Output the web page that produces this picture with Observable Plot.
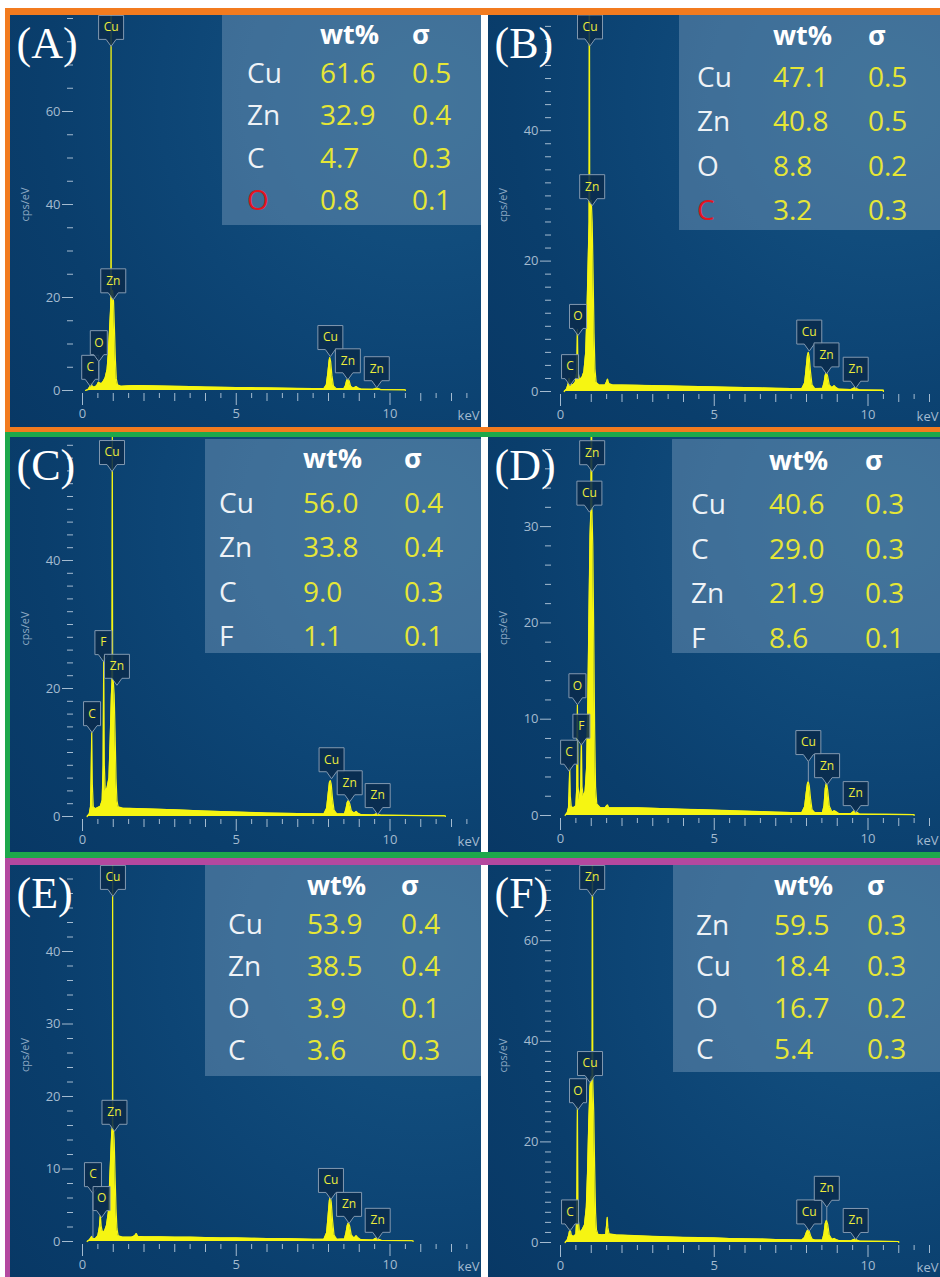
<!DOCTYPE html>
<html><head><meta charset="utf-8">
<script src="https://cdn.jsdelivr.net/npm/d3@7"></script>
<script src="https://cdn.jsdelivr.net/npm/@observablehq/plot@0.6"></script>
<style>
body{margin:0;background:#fff}
#fig{position:relative;width:940px;height:1277px;overflow:hidden;background:#fff;font-family:"Open Sans",sans-serif}
.band{position:absolute}
.panel{position:absolute;overflow:hidden;background:radial-gradient(circle at 88% 20%, #16547f 0%, #114c7c 28%, #0d4575 50%, #0a3e6c 72%, #083865 100%)}
.panel svg{position:absolute;left:0;top:0}
.tbl{position:absolute;background:rgba(128,162,194,0.42)}
.t{position:absolute;white-space:nowrap;line-height:1;transform:translateY(-50%);font-family:"Open Sans",sans-serif}
</style></head><body><div id="fig"></div>
<script>
// ---------- data ----------
const panelLetters = ["(A)", "(B)", "(C)", "(D)", "(E)", "(F)"];

// spectra: [keV, cps/eV]
const specA = [[0.10,0],[0.18,0.2],[0.24,0.8],[0.28,1.5],[0.32,0.9],[0.38,0.7],[0.46,1.0],[0.52,1.8],[0.56,1.6],[0.62,1.5],[0.68,2.0],[0.74,2.8],[0.80,4.5],[0.84,8],[0.88,13],[0.91,17],[0.925,20],[0.93,90],[0.935,20.5],[0.95,21],[0.98,21.5],[1.01,19],[1.04,13],[1.07,6.5],[1.10,2.5],[1.14,1.2],[1.25,0.9],[1.5,1.0],[1.8,1.05],[2.2,1.0],[2.6,0.95],[3.0,0.9],[3.5,0.85],[4.0,0.75],[4.5,0.7],[5.0,0.65],[5.5,0.6],[6.0,0.55],[6.5,0.5],[7.0,0.45],[7.5,0.4],[7.85,0.4],[7.93,1.2],[7.98,3.8],[8.02,6.4],[8.04,7.1],[8.07,6.2],[8.11,3.3],[8.16,1.0],[8.25,0.4],[8.5,0.4],[8.55,1.0],[8.59,2.1],[8.63,2.6],[8.67,2.1],[8.72,0.9],[8.8,0.5],[8.86,0.7],[8.9,0.85],[8.95,0.6],[9.05,0.3],[9.45,0.25],[9.52,0.4],[9.57,0.55],[9.62,0.4],[9.7,0.2],[10.5,0.15],[10.5,0]];
const specB = [[0.12,0],[0.2,0.4],[0.25,1.2],[0.28,2.0],[0.32,1.2],[0.4,1.0],[0.48,1.4],[0.53,3],[0.55,9.5],[0.57,3],[0.62,1.8],[0.7,2.2],[0.76,3],[0.82,6],[0.86,12],[0.9,20],[0.93,26],[0.94,70],[0.95,28],[0.97,29],[1.0,29.3],[1.03,26],[1.06,18],[1.09,9],[1.12,3.5],[1.16,1.4],[1.25,1.0],[1.45,1.0],[1.5,1.5],[1.53,1.9],[1.57,1.2],[1.7,1.0],[2.0,1.0],[2.5,0.95],[3,0.9],[3.5,0.85],[4,0.8],[4.5,0.75],[5,0.7],[5.5,0.65],[6,0.6],[6.5,0.55],[7,0.5],[7.5,0.45],[7.85,0.45],[7.94,1.3],[7.99,3.6],[8.03,5.5],[8.06,6.0],[8.09,5.3],[8.13,3],[8.18,1],[8.27,0.45],[8.52,0.5],[8.57,1.3],[8.61,2.5],[8.65,2.9],[8.69,2.3],[8.74,1],[8.83,0.6],[8.9,0.9],[8.96,0.6],[9.05,0.35],[9.45,0.3],[9.52,0.45],[9.58,0.6],[9.64,0.4],[9.72,0.25],[10.5,0.2],[10.5,0]];
const specC = [[0.15,0],[0.22,0.4],[0.26,1.5],[0.28,6],[0.30,13.4],[0.32,5],[0.35,1.5],[0.42,1.2],[0.5,1.4],[0.58,1.6],[0.64,2.5],[0.67,8],[0.69,25],[0.71,8],[0.74,4],[0.8,4.5],[0.86,6],[0.9,12],[0.94,19],[0.96,21],[0.97,60],[0.98,21],[1.0,21.2],[1.03,19],[1.06,13],[1.09,6],[1.12,2.5],[1.16,1.5],[1.3,1.3],[2.0,1.2],[3.0,1.05],[4.0,0.85],[5.0,0.7],[6.0,0.55],[7.0,0.45],[7.85,0.4],[7.94,1.3],[7.99,3.6],[8.03,5.3],[8.06,5.6],[8.09,5.0],[8.13,2.8],[8.18,1],[8.27,0.4],[8.52,0.4],[8.57,1.2],[8.61,2.2],[8.65,2.5],[8.69,2.0],[8.74,0.9],[8.83,0.5],[8.9,0.8],[8.96,0.5],[9.05,0.3],[9.45,0.25],[9.52,0.35],[9.58,0.45],[9.64,0.3],[9.72,0.2],[11.8,0.1],[11.8,0]];
const specD = [[0.15,0],[0.22,0.3],[0.26,0.8],[0.28,2.5],[0.30,5],[0.32,2],[0.35,0.9],[0.42,0.8],[0.5,1.0],[0.53,3],[0.55,11.5],[0.57,3],[0.62,1.5],[0.66,3],[0.68,7.6],[0.70,3],[0.74,2],[0.8,2.5],[0.85,5],[0.89,12],[0.93,22],[0.96,29],[0.99,32],[1.01,45],[1.02,32],[1.05,28],[1.08,19],[1.11,9],[1.14,3],[1.18,1.2],[1.3,0.8],[1.45,0.8],[1.5,1.0],[1.53,1.1],[1.57,0.8],[2,0.8],[2.5,0.8],[3,0.75],[3.5,0.7],[4,0.65],[4.5,0.6],[5,0.55],[5.5,0.5],[6,0.45],[6.5,0.4],[7,0.35],[7.5,0.3],[7.85,0.3],[7.94,0.9],[7.99,2.3],[8.03,3.3],[8.06,3.5],[8.09,3.1],[8.13,1.8],[8.18,0.6],[8.27,0.3],[8.52,0.3],[8.57,1.0],[8.61,2.8],[8.65,3.4],[8.69,2.6],[8.74,1],[8.83,0.35],[8.9,0.5],[8.96,0.4],[9.05,0.2],[9.45,0.2],[9.52,0.4],[9.58,0.55],[9.64,0.35],[9.72,0.15],[11.5,0.1],[11.5,0]];
const specE = [[0.15,0],[0.22,0.2],[0.27,0.5],[0.30,0.7],[0.34,0.4],[0.42,0.4],[0.5,0.8],[0.55,2],[0.58,3.6],[0.61,2],[0.66,1.2],[0.72,1.5],[0.78,2.2],[0.84,4],[0.88,8],[0.92,12],[0.95,15],[0.975,16],[0.98,60],[0.985,16],[1.0,16],[1.03,14],[1.06,9],[1.09,4.5],[1.12,1.8],[1.16,0.8],[1.3,0.6],[1.6,0.6],[1.7,0.8],[1.75,1.1],[1.8,0.7],[2.0,0.65],[2.5,0.65],[3,0.6],[3.5,0.6],[4,0.55],[4.5,0.5],[5,0.5],[5.5,0.45],[6,0.4],[6.5,0.4],[7,0.35],[7.5,0.3],[7.85,0.3],[7.94,1.2],[7.99,3.7],[8.03,5.7],[8.06,6.1],[8.09,5.4],[8.13,3],[8.18,0.9],[8.27,0.3],[8.52,0.35],[8.57,1.2],[8.61,2.2],[8.65,2.6],[8.69,2.1],[8.74,0.9],[8.83,0.45],[8.9,0.8],[8.96,0.5],[9.05,0.25],[9.45,0.2],[9.52,0.4],[9.58,0.5],[9.64,0.3],[9.72,0.15],[10.75,0.1],[10.75,0]];
const specF = [[0.15,0],[0.22,0.5],[0.27,1.5],[0.31,2.8],[0.35,1.5],[0.42,1.2],[0.5,1.6],[0.53,5],[0.55,27],[0.57,5],[0.62,2],[0.7,2.5],[0.78,3.5],[0.84,7],[0.88,14],[0.92,24],[0.96,31],[1.0,33],[1.03,33],[1.04,90],[1.05,32],[1.08,26],[1.11,15],[1.14,6],[1.17,2.5],[1.22,1.6],[1.35,1.5],[1.47,1.6],[1.5,3.5],[1.52,5],[1.54,3],[1.58,1.7],[1.8,1.5],[2.2,1.4],[2.6,1.3],[3,1.2],[3.5,1.1],[4,1.0],[4.5,0.95],[5,0.9],[5.5,0.8],[6,0.75],[6.5,0.7],[7,0.6],[7.5,0.55],[7.85,0.5],[7.94,1.0],[7.99,1.9],[8.03,2.4],[8.06,2.5],[8.09,2.2],[8.13,1.4],[8.18,0.7],[8.27,0.5],[8.52,0.5],[8.57,1.8],[8.61,3.8],[8.65,4.4],[8.69,3.6],[8.74,1.5],[8.83,0.6],[8.9,0.8],[8.96,0.6],[9.05,0.4],[9.45,0.35],[9.52,0.55],[9.58,0.7],[9.64,0.5],[9.72,0.3],[11.0,0.2],[11.0,0]];

// peak labels: [element, keV, cps/eV at pointer tip, (optional) peak cps/eV]
const labelsA = [["C",0.25,0.9],["O",0.53,6.2,2],["Cu",0.93,74],["Zn",1.0,19.5],["Cu",8.06,7.3],["Zn",8.63,2.3],["Zn",9.57,0.6]];
const labelsB = [["C",0.31,0.9],["O",0.57,8.6],["Cu",0.96,53],["Zn",1.03,28.5],["Cu",8.09,6.2],["Zn",8.65,2.7],["Zn",9.6,0.5]];
const labelsC = [["C",0.31,13.1],["Cu",0.96,53.9],["F",0.68,24.2],["Zn",1.12,20.5],["Cu",8.1,5.9],["Zn",8.69,2.3],["Zn",9.6,0.3]];
const labelsD = [["Zn",1.03,35.7],["Cu",0.94,31.5],["O",0.55,11.5],["F",0.68,7.3],["C",0.28,4.6],["Cu",8.06,5.6,3.5],["Zn",8.67,3.2],["Zn",9.6,0.3]];
const labelsE = [["Cu",0.99,47.6],["Zn",1.04,15.2],["C",0.34,6.6,0.5],["O",0.62,3.3],["Cu",8.08,5.8],["Zn",8.67,2.5],["Zn",9.6,0.3]];
const labelsF = [["Zn",1.03,68.8],["Cu",0.96,31.8],["O",0.57,26.4],["C",0.31,2.3],["Cu",8.09,2.3],["Zn",8.66,7.0,4.4],["Zn",9.6,0.6]];

// quantification tables: [element, wt%, sigma]
const tableA = [["Cu",61.6,0.5],["Zn",32.9,0.4],["C",4.7,0.3],["O",0.8,0.1]];
const tableB = [["Cu",47.1,0.5],["Zn",40.8,0.5],["O",8.8,0.2],["C",3.2,0.3]];
const tableC = [["Cu",56.0,0.4],["Zn",33.8,0.4],["C",9.0,0.3],["F",1.1,0.1]];
const tableD = [["Cu",40.6,0.3],["C",29.0,0.3],["Zn",21.9,0.3],["F",8.6,0.1]];
const tableE = [["Cu",53.9,0.4],["Zn",38.5,0.4],["O",3.9,0.1],["C",3.6,0.3]];
const tableF = [["Zn",59.5,0.3],["Cu",18.4,0.3],["O",16.7,0.2],["C",5.4,0.3]];
const highlighted = [3, 3, -1, -1, -1, -1]; // row shown in red

// axis ticks
const yMajorA = [0,20,40,60], yMajorB = [0,20,40], yMajorC = [0,20,40], yMajorD = [0,10,20,30], yMajorE = [0,10,20,30,40], yMajorF = [0,20,40,60];
const yMinorSteps = [5, 2, 2, 2, 2, 2];
const xLabelTicks = [0, 5, 10];

// ---------- layout & style ----------
const layout = [
  {left:10,  top:15,  w:471, h:412, zero:375, ppu:4.65, tl:212, tt:0, tb:210, nameX:237, wtX:310, sdX:402, hy:18, r0:57, rs:42.3},
  {left:488, top:15,  w:452, h:412, zero:376, ppu:6.52, tl:191, tt:0, tb:215, nameX:209, wtX:285, sdX:380, hy:19, r0:61, rs:44.3},
  {left:10,  top:437, w:471, h:415, zero:379, ppu:6.40, tl:195, tt:2, tb:216, nameX:209, wtX:293, sdX:394, hy:20, r0:65, rs:44.3},
  {left:488, top:437, w:452, h:415, zero:378, ppu:9.63, tl:184, tt:2, tb:216, nameX:203, wtX:281, sdX:377, hy:22, r0:66, rs:44.7},
  {left:10,  top:865, w:471, h:412, zero:376, ppu:7.25, tl:195, tt:0, tb:211, nameX:218, wtX:297, sdX:391, hy:19, r0:58, rs:42.0},
  {left:488, top:865, w:452, h:412, zero:377, ppu:5.03, tl:185, tt:0, tb:207, nameX:208, wtX:286, sdX:379, hy:19, r0:59, rs:41.3}
];
const YEL = "#f6f512", TIPTXT = "#ecec3c", AXC = "#a4bbd0", AXC2 = "#8ea9c4";
const BOXFILL = "#0a2b4c", BOXSTROKE = "#8399b0";
const VALC = "#e6e636", NAMEC = "#eef2f6", REDC = "#e3141e";
const KEVPX = 30.75, X0 = 72;
const PTR = 7, BOXH = 24;

// callout symbol: box above a short pointer whose tip sits on the anchor point
function callout(w) {
  return {draw(ctx) {
    ctx.moveTo(0, 0);
    ctx.lineTo(5, -PTR);
    ctx.lineTo(w / 2, -PTR);
    ctx.lineTo(w / 2, -PTR - BOXH);
    ctx.lineTo(-w / 2, -PTR - BOXH);
    ctx.lineTo(-w / 2, -PTR);
    ctx.lineTo(-5, -PTR);
    ctx.closePath();
  }};
}
const wideBox = callout(25), narrowBox = callout(17);

const fig = document.getElementById("fig");
function band(l, t, w, h, c) {
  const d = document.createElement("div");
  d.className = "band";
  Object.assign(d.style, {left: l + "px", top: t + "px", width: w + "px", height: h + "px", background: c});
  fig.appendChild(d);
}
band(5, 8, 945, 424, "#f27b1f");
band(5, 432, 945, 426, "#1ea84b");
band(5, 858, 945, 430, "#b4489f");

function txt(parent, s, x, y, size, color, weight) {
  const e = document.createElement("div");
  e.className = "t";
  e.textContent = s;
  Object.assign(e.style, {left: x + "px", top: y + "px", fontSize: size + "px", color, fontWeight: weight || 400});
  parent.appendChild(e);
}

const specs = [specA, specB, specC, specD, specE, specF];
const labelSets = [labelsA, labelsB, labelsC, labelsD, labelsE, labelsF];
const tables = [tableA, tableB, tableC, tableD, tableE, tableF];
const yMajors = [yMajorA, yMajorB, yMajorC, yMajorD, yMajorE, yMajorF];

specs.forEach((spec, i) => {
  const L = layout[i];
  const div = document.createElement("div");
  div.className = "panel";
  Object.assign(div.style, {left: L.left + "px", top: L.top + "px", width: L.w + "px", height: L.h + "px"});
  fig.appendChild(div);

  // quantification table
  const tb = document.createElement("div");
  tb.className = "tbl";
  Object.assign(tb.style, {left: L.tl + "px", top: L.tt + "px", width: (L.w - L.tl) + "px", height: (L.tb - L.tt) + "px"});
  div.appendChild(tb);
  txt(div, "wt%", L.wtX, L.hy, 27, "#ffffff", 700);
  txt(div, "σ", L.sdX, L.hy, 27, "#ffffff", 700);
  tables[i].forEach((r, k) => {
    const y = L.r0 + k * L.rs;
    txt(div, r[0], L.nameX, y, 28, highlighted[i] === k ? REDC : NAMEC);
    txt(div, r[1].toFixed(1), L.wtX, y, 28, VALC);
    txt(div, r[2].toFixed(1), L.sdX, y, 28, VALC);
  });

  const yTop = L.zero / L.ppu;
  const kevMax = (L.w - X0) / KEVPX;
  const yMajor = yMajors[i];
  const yMinor = d3.range(0, yTop, yMinorSteps[i]).filter(v => !yMajor.includes(v));
  const xWhole = d3.range(1, kevMax, 1).filter(v => !xLabelTicks.includes(v));
  const xHalf = d3.range(0.5, kevMax, 1);
  const labels = labelSets[i];
  const wide = labels.filter(d => d[0].length > 1), narrow = labels.filter(d => d[0].length === 1);
  const links = labels.filter(d => d.length > 3).map(d => ({x: d[1], y1: d[2], y2: d[3]}));
  const lx = d => d[1], ly = d => d[2];

  const svg = Plot.plot({
    width: L.w, height: L.h,
    marginLeft: 63, marginRight: 2, marginTop: 0, marginBottom: L.h - (L.zero + 3),
    style: {background: "transparent", color: AXC, fontFamily: "Open Sans", overflow: "hidden"},
    x: {domain: [0, kevMax], range: [X0, L.w]},
    y: {domain: [0, yTop], range: [L.zero, 0]},
    marks: [
      Plot.axisY({ticks: yMinor, tickSize: 6, stroke: AXC, fill: "none", label: null}),
      Plot.axisY({ticks: yMajor, tickSize: 11, tickPadding: 2, stroke: AXC, fill: AXC, fontSize: 13, label: null}),
      Plot.axisX({ticks: xHalf, tickSize: 5, stroke: AXC, fill: "none", label: null}),
      Plot.axisX({ticks: xWhole, tickSize: 8, stroke: AXC, fill: "none", label: null}),
      Plot.axisX({ticks: xLabelTicks, tickSize: 12, tickPadding: 3, stroke: AXC, fill: AXC, fontSize: 13, label: null}),
      Plot.text(["keV"], {text: d => d, frameAnchor: "bottom-right", textAnchor: "end", lineAnchor: "middle", dy: 22, fill: AXC, fontSize: 13}),
      Plot.text(["cps/eV"], {text: d => d, frameAnchor: "left", rotate: -90, dx: -48, textAnchor: "middle", lineAnchor: "middle", fill: AXC2, fontSize: 11}),
      Plot.areaY(spec, {x: d => d[0], y: d => d[1], fill: YEL, curve: "linear"}),
      Plot.lineY(spec, {x: d => d[0], y: d => d[1], stroke: YEL, strokeWidth: 1.2}),
      Plot.link(links, {x1: "x", x2: "x", y1: "y1", y2: "y2", stroke: BOXSTROKE, strokeWidth: 1}),
      Plot.dot(narrow, {x: lx, y: ly, symbol: narrowBox, r: 5, fill: BOXFILL, fillOpacity: 0.88, stroke: BOXSTROKE, strokeWidth: 1}),
      Plot.dot(wide, {x: lx, y: ly, symbol: wideBox, r: 5, fill: BOXFILL, fillOpacity: 0.88, stroke: BOXSTROKE, strokeWidth: 1}),
      Plot.text(labels, {x: lx, y: ly, text: d => d[0], dy: -(PTR + BOXH / 2), lineAnchor: "middle", fill: TIPTXT, fontSize: 12, fontFamily: "Open Sans"}),
      Plot.text([panelLetters[i]], {text: d => d, frameAnchor: "top-left", dx: -57, dy: 28, textAnchor: "start", lineAnchor: "middle",
        fontFamily: "Liberation Serif", fontSize: 44, fill: "#ffffff"})
    ]
  });
  div.appendChild(svg);
});

// white separators between left and right panels
band(481, 15, 7, 412, "#ffffff");
band(481, 437, 7, 415, "#ffffff");
band(481, 865, 7, 412, "#ffffff");
</script></body></html>
